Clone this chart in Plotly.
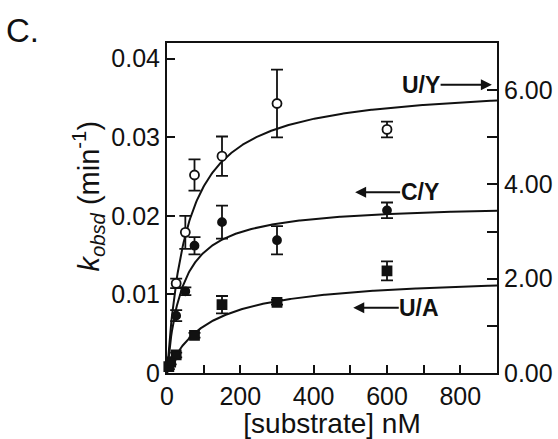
import numpy as np
import plotly.graph_objects as go

# ---- data ----
uy_x = [25, 50, 75, 150, 300, 600]
uy_y = [0.0114, 0.0179, 0.0252, 0.0276, 0.0343, 0.0310]
uy_err = [0.0006, 0.0021, 0.0020, 0.0025, 0.0043, 0.0010]

cy_x = [25, 50, 75, 150, 300, 600]
cy_y = [0.0073, 0.0104, 0.0162, 0.0192, 0.0169, 0.0207]
cy_err = [0.0007, 0.0005, 0.0011, 0.0021, 0.0018, 0.0010]

ua_x = [5, 10, 25, 75, 150, 300, 600]
ua_y = [0.0008, 0.0014, 0.0023, 0.0048, 0.0087, 0.0090, 0.0130]
ua_err = [0.0003, 0.0003, 0.0003, 0.0003, 0.0011, 0.0003, 0.0012]

# hyperbolic fit parameters (kmax, K)
fit_uy = (0.0368, 55.0)
fit_cy = (0.0216, 41.0)
fit_ua = (0.0125, 110.0)

xticks = [0, 200, 400, 600, 800]
yticks_left = [0, 0.01, 0.02, 0.03, 0.04]
yticks_left_text = ["0", "0.01", "0.02", "0.03", "0.04"]
yticks_right = [0, 2, 4, 6]
yticks_right_text = ["0.00", "2.00", "4.00", "6.00"]

FONT = "Liberation Sans, Arial, sans-serif"
BLACK = "#111111"

xs = np.linspace(0, 900, 400)

fig = go.Figure()

for (kmax, K) in (fit_uy, fit_cy, fit_ua):
    fig.add_trace(go.Scatter(x=xs, y=kmax * xs / (K + xs), mode="lines",
                             line=dict(color=BLACK, width=2), showlegend=False,
                             hoverinfo="skip"))

def pts(x, y, err, symbol, size, fill):
    fig.add_trace(go.Scatter(
        x=x, y=y, mode="markers",
        marker=dict(symbol=symbol, size=size, color=fill,
                    line=dict(color=BLACK, width=1.8)),
        error_y=dict(type="data", array=err, visible=True, color=BLACK,
                     thickness=1.8, width=6),
        cliponaxis=False, showlegend=False))

pts(ua_x, ua_y, ua_err, "square", 9, BLACK)
pts(cy_x, cy_y, cy_err, "circle", 8, BLACK)
pts(uy_x, uy_y, uy_err, "circle", 9, "white")

# invisible trace on the right axis
fig.add_trace(go.Scatter(x=[0], y=[0], yaxis="y2", mode="markers",
                         marker=dict(opacity=0), showlegend=False, hoverinfo="skip"))

fig.update_layout(
    width=558, height=439,
    margin=dict(l=167, r=61, t=43, b=66, autoexpand=False),
    paper_bgcolor="white", plot_bgcolor="white",
    font=dict(family=FONT, size=25, color=BLACK),
    xaxis=dict(range=[0, 900], tickvals=xticks, ticks="inside", ticklen=8,
               tickwidth=1.8, tickcolor=BLACK, automargin=False,
               minor=dict(dtick=100, ticks="inside", ticklen=8, tickwidth=1.8, tickcolor=BLACK),
               showline=True, linecolor=BLACK, linewidth=2, mirror=True,
               showgrid=False, zeroline=False,
               title=dict(text="[substrate] nM", font=dict(size=28), standoff=2)),
    yaxis=dict(range=[0, 0.042], tickvals=yticks_left, ticktext=yticks_left_text,
               ticks="inside", ticklen=8, tickwidth=1.8, tickcolor=BLACK, automargin=False,
               showline=True, linecolor=BLACK, linewidth=2,
               showgrid=False, zeroline=False),
    yaxis2=dict(range=[0, 7], overlaying="y", side="right",
                tickvals=yticks_right, ticktext=yticks_right_text, automargin=False,
                ticks="inside", ticklen=10, tickwidth=1.8, tickcolor=BLACK,
                minor=dict(dtick=1, ticks="inside", ticklen=10, tickwidth=1.8, tickcolor=BLACK),
                showline=True, linecolor=BLACK, linewidth=2,
                showgrid=False, zeroline=False),
)

# y title
fig.add_annotation(xref="paper", yref="paper", x=-0.238, y=0.536,
                   text="<i>k<sub>obsd</sub></i> (min<sup>-1</sup>)",
                   textangle=-90, showarrow=False, font=dict(size=29),
                   xanchor="center", yanchor="middle")
# panel label
fig.add_annotation(xref="paper", yref="paper", x=-0.495, y=1.039, text="C.",
                   showarrow=False, font=dict(size=33), xanchor="left", yanchor="middle")

# series labels, each with its arrow (label at tail, arrow head at target)
labels = [("U/Y", 693, 0.0367, 886, 0.0367),
          ("C/Y", 689, 0.0230, 513, 0.0230),
          ("U/A", 688, 0.0083, 508, 0.0083)]
for txt, xl, yl, xh, yh in labels:
    fig.add_annotation(x=xh, y=yh, ax=xl, ay=yl, axref="x", ayref="y",
                       text="<b>" + txt + "</b>", showarrow=True,
                       arrowhead=2, arrowsize=1.1, arrowwidth=2, arrowcolor=BLACK,
                       borderpad=0, font=dict(size=23))

fig.write_html("out.html")
